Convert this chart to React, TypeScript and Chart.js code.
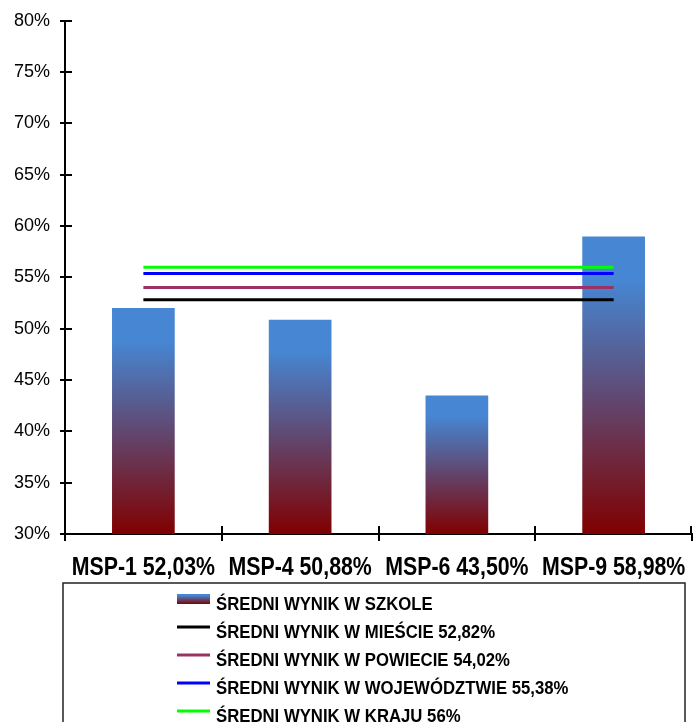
import React, { useEffect, useRef } from 'react';
import { Chart, registerables } from 'chart.js';

Chart.register(...registerables);

const categories = ['MSP-1 52,03%', 'MSP-4 50,88%', 'MSP-6 43,50%', 'MSP-9 58,98%'];
const schoolScores = [52.03, 50.88, 43.5, 58.98];
const cityScores = [52.82, 52.82, 52.82, 52.82];
const countyScores = [54.02, 54.02, 54.02, 54.02];
const voivodeshipScores = [55.38, 55.38, 55.38, 55.38];
const countryScores = [56, 56, 56, 56];
const seriesNames = [
  'ŚREDNI WYNIK W SZKOLE',
  'ŚREDNI WYNIK W MIEŚCIE 52,82%',
  'ŚREDNI WYNIK W POWIECIE 54,02%',
  'ŚREDNI WYNIK W WOJEWÓDZTWIE 55,38%',
  'ŚREDNI WYNIK W KRAJU 56%',
];
const yMin = 30;
const yMax = 80;
const yStep = 5;

const W = 694;
const H = 722;
const SANS = '"Liberation Sans", Arial, sans-serif';
const BLUE = '#4686d2';
const RED = '#800000';
const LINE_COLORS = ['#000000', '#993366', '#0000ff', '#00ff00'];

function barGradient(c: CanvasRenderingContext2D, top: number, bottom: number) {
  const g = c.createLinearGradient(0, top, 0, bottom);
  g.addColorStop(0, BLUE);
  g.addColorStop(0.15, BLUE);
  g.addColorStop(1, RED);
  return g;
}

function scaledText(c: CanvasRenderingContext2D, text: string, x: number, y: number, align: CanvasTextAlign, sx: number) {
  c.save();
  c.translate(x, y);
  c.scale(sx, 1);
  c.textAlign = align;
  c.textBaseline = 'alphabetic';
  c.fillText(text, 0, 0);
  c.restore();
}

const tickAndLegendPlugin = {
  id: 'tickAndLegend',
  afterDraw(chart: any) {
    const c: CanvasRenderingContext2D = chart.ctx;
    const x = chart.scales.x;
    const y = chart.scales.y;
    const area = chart.chartArea;
    c.save();
    c.strokeStyle = '#000';
    c.lineWidth = 2;
    // inner parts of y ticks
    c.beginPath();
    y.ticks.forEach((t: any) => {
      const py = Math.round(y.getPixelForValue(t.value));
      c.moveTo(area.left, py);
      c.lineTo(area.left + 7, py);
    });
    // inner parts of x ticks (category boundaries)
    const n = categories.length;
    const cw = (x.right - x.left) / n;
    for (let i = 1; i <= n; i++) {
      const px = Math.round(x.left + i * cw) - (i === n ? 1 : 0);
      c.moveTo(px, area.bottom);
      c.lineTo(px, area.bottom - 8);
    }
    c.stroke();

    // category labels (narrow bold look)
    c.fillStyle = '#000';
    c.font = 'bold 26px ' + SANS;
    categories.forEach((lab, i) => {
      scaledText(c, lab, x.getPixelForValue(i), area.bottom + 41, 'center', 0.82);
    });

    // legend box
    c.lineWidth = 1.5;
    c.strokeStyle = '#222';
    c.strokeRect(63, 583, 622, 200);

    const sx0 = 177;
    const sx1 = 210;
    const tx = 216;
    const rowY0 = 599;
    const rowGap = 28;
    c.font = 'bold 18px ' + SANS;
    seriesNames.forEach((name, i) => {
      const cy = rowY0 + i * rowGap;
      if (i === 0) {
        c.fillStyle = barGradient(c, cy - 5, cy + 5);
        c.fillRect(sx0, cy - 5, sx1 - sx0, 10);
      } else {
        c.strokeStyle = LINE_COLORS[i - 1];
        c.lineWidth = 3;
        c.beginPath();
        c.moveTo(sx0, cy);
        c.lineTo(sx1, cy);
        c.stroke();
      }
      c.fillStyle = '#000';
      scaledText(c, name, tx, cy + 10.5, 'left', 0.93);
    });
    c.restore();
  },
};

export default function App() {
  const ref = useRef<HTMLCanvasElement | null>(null);
  useEffect(() => {
    if (!ref.current) return;
    const lineSets = [cityScores, countyScores, voivodeshipScores, countryScores].map((d, i) => ({
      type: 'line' as const,
      label: seriesNames[i + 1],
      data: d,
      borderColor: LINE_COLORS[i],
      backgroundColor: LINE_COLORS[i],
      borderWidth: 3,
      pointRadius: 0,
      fill: false,
      order: 0,
    }));
    const chart = new Chart(ref.current, {
      type: 'bar',
      data: {
        labels: categories,
        datasets: [
          {
            type: 'bar',
            label: seriesNames[0],
            data: schoolScores,
            order: 1,
            barPercentage: 0.4,
            categoryPercentage: 1,
            backgroundColor: (ctx: any) => {
              const ch = ctx.chart;
              if (!ch.chartArea || ctx.type !== 'data') return BLUE;
              const ys = ch.scales.y;
              const top = ys.getPixelForValue(ctx.raw);
              const bottom = ys.getPixelForValue(yMin);
              return barGradient(ch.ctx, top, bottom);
            },
          } as any,
          ...lineSets,
        ],
      },
      options: {
        responsive: false,
        animation: false,
        layout: { padding: { top: 20, left: 0, right: 2, bottom: 138 } },
        plugins: {
          legend: { display: false },
          tooltip: { enabled: false },
        },
        scales: {
          x: {
            offset: true,
            grid: {
              offset: true,
              display: true,
              drawOnChartArea: false,
              drawTicks: true,
              tickLength: 7,
              color: '#000',
              lineWidth: 2,
            },
            border: { display: true, color: '#000', width: 2 },
            ticks: { display: false },
            afterFit: (s: any) => {
              s.height = 50;
            },
          },
          y: {
            min: yMin,
            max: yMax,
            grid: {
              display: true,
              drawOnChartArea: false,
              drawTicks: true,
              tickLength: 5,
              color: '#000',
              lineWidth: 2,
            },
            border: { display: true, color: '#000', width: 2 },
            ticks: {
              stepSize: yStep,
              color: '#000',
              font: { family: SANS, size: 18 },
              padding: 10,
              callback: (v: any) => v + '%',
            },
            afterFit: (s: any) => {
              s.width = 65;
            },
          },
        },
      },
      plugins: [tickAndLegendPlugin],
    } as any);
    return () => chart.destroy();
  }, []);
  return (
    <div style={{ position: 'fixed', left: 0, top: 0, width: W, height: H, overflow: 'hidden', background: '#fff' }}>
      <canvas ref={ref} width={W} height={H} style={{ display: 'block', width: W, height: H }} />
    </div>
  );
}
